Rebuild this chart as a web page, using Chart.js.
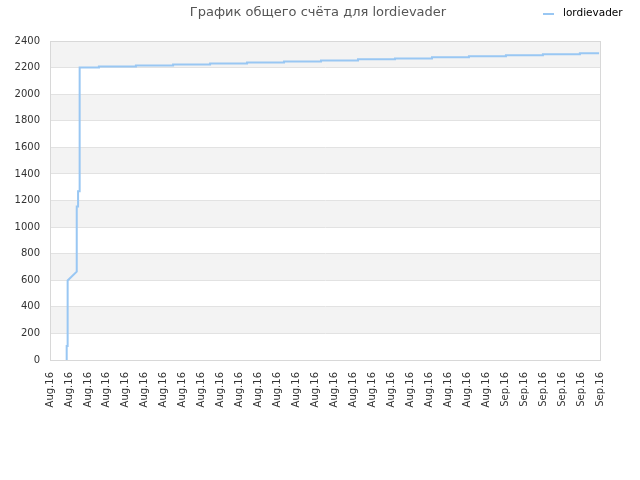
<!DOCTYPE html>
<html>
<head>
<meta charset="utf-8">
<script src="https://cdn.jsdelivr.net/npm/chart.js@4/dist/chart.umd.min.js"></script>
<style>
  html, body { margin: 0; padding: 0; background: #fff; }
  #wrap { width: 640px; height: 480px; }
</style>
</head>
<body>
<div id="wrap"><canvas id="score-chart" width="640" height="480"></canvas></div>
<script>
    // Подписи оси X (по одной на день)
    const tickLabels = [
        'Aug.16', 'Aug.16', 'Aug.16', 'Aug.16', 'Aug.16', 'Aug.16', 'Aug.16', 'Aug.16',
        'Aug.16', 'Aug.16', 'Aug.16', 'Aug.16', 'Aug.16', 'Aug.16', 'Aug.16', 'Aug.16',
        'Aug.16', 'Aug.16', 'Aug.16', 'Aug.16', 'Aug.16', 'Aug.16', 'Aug.16', 'Aug.16',
        'Sep.16', 'Sep.16', 'Sep.16', 'Sep.16', 'Sep.16', 'Sep.16'
    ];

    // Позиции точек (в днях от начала) и общий счёт
    const pointDays = [
        0.88, 0.88, 0.93, 0.93, 1.41, 1.41, 1.48, 1.48, 1.53, 1.53, 1.58, 1.58,
        2.58, 2.58, 4.53, 4.53, 6.49, 6.49, 8.44, 8.44, 10.39, 10.39,
        12.34, 12.34, 14.29, 14.29, 16.24, 16.24, 18.19, 18.19, 20.14, 20.14,
        22.09, 22.09, 24.04, 24.04, 25.99, 25.99, 27.94, 27.94, 28.95
    ];
    const scoreValues = [
        0, 106, 106, 598, 665, 1155, 1155, 1270, 1270, 2100, 2100, 2200,
        2200, 2208, 2208, 2215, 2215, 2223, 2223, 2231, 2231, 2238,
        2238, 2246, 2246, 2254, 2254, 2262, 2262, 2269, 2269, 2277,
        2277, 2285, 2285, 2292, 2292, 2300, 2300, 2308, 2308
    ];

    const seriesName = 'lordievader';
    const titleText = 'График общего счёта для lordievader';
    const lineColor = '#99c7f3';

    // Полосы фона, рамка, заголовок и легенда
    const decorPlugin = {
        id: 'decor',
        beforeDraw(chart) {
            const { ctx, chartArea: a, scales: { y } } = chart;
            ctx.save();
            ctx.fillStyle = '#ffffff';
            ctx.fillRect(0, 0, chart.width, chart.height);
            ctx.fillStyle = '#f3f3f3';
            for (let v = 200; v < 2400; v += 400) {
                const top = y.getPixelForValue(v + 200);
                const bottom = y.getPixelForValue(v);
                ctx.fillRect(a.left, top, a.right - a.left, bottom - top);
            }
            ctx.restore();
        },
        afterDraw(chart) {
            const { ctx, chartArea: a } = chart;
            ctx.save();
            ctx.strokeStyle = '#d8d8d8';
            ctx.lineWidth = 1;
            ctx.strokeRect(a.left + 0.5, a.top + 0.5, a.right - a.left, a.bottom - a.top);

            ctx.font = '13px "DejaVu Sans"';
            ctx.fillStyle = '#555555';
            ctx.textAlign = 'center';
            ctx.textBaseline = 'middle';
            ctx.fillText(titleText, 318, 13);

            ctx.strokeStyle = lineColor;
            ctx.lineWidth = 2;
            ctx.beginPath();
            ctx.moveTo(543, 14);
            ctx.lineTo(554, 14);
            ctx.stroke();
            ctx.font = '10.5px "DejaVu Sans"';
            ctx.fillStyle = '#000000';
            ctx.textAlign = 'left';
            ctx.fillText(seriesName, 563, 13);
            ctx.restore();
        }
    };

    const ctx = document.getElementById('score-chart').getContext('2d');
    new Chart(ctx, {
        type: 'line',
        data: {
            datasets: [{
                label: seriesName,
                data: pointDays.map((d, i) => ({ x: d, y: scoreValues[i] })),
                borderColor: lineColor,
                borderWidth: 2,
                pointRadius: 0,
                tension: 0,
                fill: false
            }]
        },
        options: {
            responsive: false,
            animation: false,
            devicePixelRatio: 1,
            layout: { padding: { top: 41, right: 40, left: 0, bottom: 0 } },
            plugins: {
                legend: { display: false },
                title: { display: false },
                tooltip: { enabled: false }
            },
            scales: {
                x: {
                    type: 'linear',
                    min: 0,
                    max: 29,
                    afterFit: s => { s.height = 120; },
                    grid: { display: false, drawTicks: false },
                    border: { color: '#d8d8d8' },
                    ticks: {
                        stepSize: 1,
                        autoSkip: false,
                        minRotation: 90,
                        maxRotation: 90,
                        padding: 12,
                        color: '#333333',
                        font: { family: 'DejaVu Sans', size: 10 },
                        callback: v => tickLabels[v]
                    }
                },
                y: {
                    min: 0,
                    max: 2400,
                    afterFit: s => { s.width = 50; },
                    grid: { color: '#e2e2e2', drawTicks: false },
                    border: { color: '#d8d8d8' },
                    ticks: {
                        stepSize: 200,
                        padding: 10,
                        color: '#333333',
                        font: { family: 'DejaVu Sans', size: 10 },
                        callback: v => String(v)
                    }
                }
            }
        },
        plugins: [decorPlugin]
    });
</script>
</body>
</html>
